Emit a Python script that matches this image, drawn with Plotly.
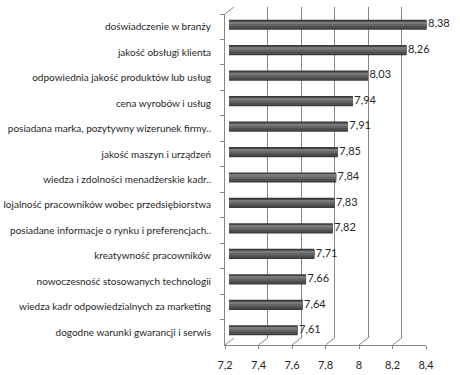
import plotly.graph_objects as go

categories = [
    "doświadczenie w branży",
    "jakość obsługi klienta",
    "odpowiednia jakość produktów lub usług",
    "cena wyrobów i usług",
    "posiadana marka, pozytywny wizerunek firmy..",
    "jakość maszyn i urządzeń",
    "wiedza i zdolności menadżerskie kadr..",
    "lojalność pracowników wobec przedsiębiorstwa",
    "posiadane informacje o rynku i preferencjach..",
    "kreatywność pracowników",
    "nowoczesność stosowanych technologii",
    "wiedza kadr odpowiedzialnych za marketing",
    "dogodne warunki gwarancji i serwis",
]
values = [8.38, 8.26, 8.03, 7.94, 7.91, 7.85, 7.84, 7.83, 7.82, 7.71, 7.66, 7.64, 7.61]
tick_vals = [7.2, 7.4, 7.6, 7.8, 8.0, 8.2, 8.4]
x_min, x_max = 7.2, 8.4

W, H = 460, 375
FONT = "Lato"
TXT = "#262626"
GRID = "#868686"

# front plane (pixels)
fx0, fx1, fy_top, fy_bot = 225, 426, 14, 345
# depth shift of back plane
dx, dy = 9, -7
# bars sit slightly in front of the middle of the depth
bx, by = 4, -2


def xd(a, b):
    return [a / W, b / W]


def yd(top, bot):
    return [1 - bot / H, 1 - top / H]


fig = go.Figure()

# cylinder-like bars built from layered bars on the mid-depth axes
layers = [
    (0.40, -0.20, "#3a3a3a"),
    (0.30, -0.15, "#4e4e4e"),
    (0.18, -0.12, "#646464"),
    (0.07, -0.10, "#7a7a7a"),
]
base = [x_min] * len(values)
for width, off, col in layers:
    fig.add_trace(go.Bar(
        y=categories, x=[v - x_min for v in values], base=base,
        orientation="h", width=width, offset=off,
        marker=dict(color=col, line=dict(width=0)),
        xaxis="x3", yaxis="y3", hoverinfo="skip", showlegend=False,
    ))

# value labels
fig.add_trace(go.Scatter(
    y=categories, x=values, mode="text",
    text=["\u2009" + f"{v:.2f}".replace(".", ",") for v in values],
    textposition="middle right", cliponaxis=False,
    textfont=dict(family=FONT, size=11, color=TXT),
    xaxis="x3", yaxis="y3", hoverinfo="skip", showlegend=False,
))

# invisible traces to keep the front/back axes alive
fig.add_trace(go.Scatter(x=[x_min] * len(categories), y=categories, mode="markers",
                         marker=dict(opacity=0), xaxis="x", yaxis="y",
                         hoverinfo="skip", showlegend=False))
fig.add_trace(go.Scatter(x=[x_min], y=[0], mode="markers",
                         marker=dict(opacity=0), xaxis="x2", yaxis="y2",
                         hoverinfo="skip", showlegend=False))

# floor diagonals and top-left wall edge
px_per_unit = (fx1 - fx0) / (x_max - x_min)
shapes = []
for t in tick_vals:
    shapes.append(dict(
        type="line", xref="x", yref="paper",
        x0=t, y0=1 - fy_bot / H, x1=t + dx / px_per_unit, y1=1 - (fy_bot + dy) / H,
        line=dict(color=GRID, width=1),
    ))
shapes.append(dict(
    type="line", xref="x", yref="paper",
    x0=x_min, y0=1 - fy_top / H, x1=x_min + dx / px_per_unit, y1=1 - (fy_top + dy) / H,
    line=dict(color=GRID, width=1),
))

n = len(categories)
fig.update_layout(
    template="none",
    width=W, height=H,
    margin=dict(l=0, r=0, t=0, b=0, autoexpand=False),
    paper_bgcolor="white", plot_bgcolor="rgba(0,0,0,0)",
    separators=", ",
    barmode="overlay",
    shapes=shapes,
    font=dict(family=FONT, size=10, color=TXT),
    # front axes
    xaxis=dict(domain=xd(fx0, fx1), anchor="y", range=[x_min, x_max],
               tickvals=tick_vals, showgrid=False, zeroline=False, automargin=False,
               showline=True, linecolor=GRID, linewidth=1,
               ticks="outside", ticklen=3, tickcolor=GRID, ticklabelstandoff=7,
               tickfont=dict(family=FONT, size=11, color=TXT)),
    yaxis=dict(domain=yd(fy_top, fy_bot), anchor="x", type="category",
               categoryorder="array", categoryarray=categories, automargin=False,
               range=[n - 0.5, -0.5], showgrid=False, zeroline=False,
               showline=True, linecolor=GRID, linewidth=1,
               ticks="outside", ticklen=4, tickcolor=GRID, tickson="boundaries",
               ticklabelstandoff=11,
               tickfont=dict(family=FONT, size=10, color=TXT)),
    # back wall axes (gridlines)
    xaxis2=dict(domain=xd(fx0 + dx, fx1 + dx), anchor="y2", range=[x_min, x_max],
                tickvals=tick_vals, showgrid=True, gridcolor=GRID, gridwidth=1,
                automargin=False,
                showticklabels=False, zeroline=False, showline=False, ticks=""),
    yaxis2=dict(domain=yd(fy_top + dy, fy_bot + dy), anchor="x2", range=[0, 1],
                visible=False, showgrid=False, zeroline=False, automargin=False),
    # mid-depth axes for the bars
    xaxis3=dict(domain=xd(fx0 + bx, fx1 + bx), anchor="y3", automargin=False,
                range=[x_min, x_max], visible=False, showgrid=False, zeroline=False),
    yaxis3=dict(domain=yd(fy_top + by, fy_bot + by), anchor="x3", automargin=False,
                type="category", categoryorder="array", categoryarray=categories,
                range=[n - 0.5, -0.5], visible=False, showgrid=False),
)

fig.write_html("out.html", config={"displayModeBar": False},
               post_script="document.body.style.margin='0';document.body.style.overflow='hidden';")
